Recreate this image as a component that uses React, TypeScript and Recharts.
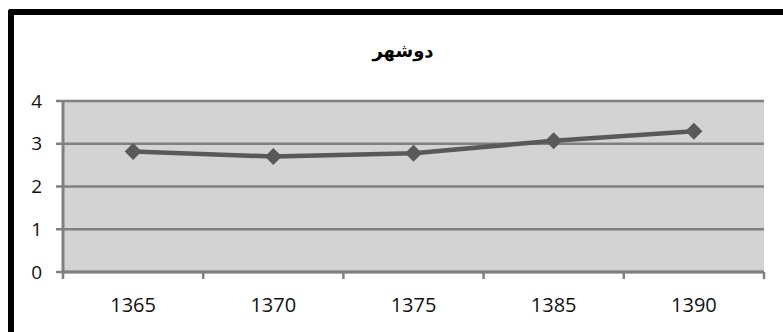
import React from 'react';
import { LineChart, Line, XAxis, YAxis, CartesianGrid } from 'recharts';

const years = ['1365', '1370', '1375', '1385', '1390'];
const values = [2.82, 2.7, 2.78, 3.07, 3.29];
const yTicks = [0, 1, 2, 3, 4];

const title = 'دوشهر';

const W = 783;
const H = 332;
const MARGIN = { top: 101, right: 19, bottom: 0, left: 0 };
const Y_WIDTH = 63;
const PLOT_W = W - MARGIN.left - MARGIN.right - Y_WIDTH;
const HALF_BAND = PLOT_W / years.length / 2;

const AXIS = '#808080';
const LINE = '#595959';

const chartData = years.map((year, i) => ({ year, value: values[i] }));

function Diamond(props: any) {
  const { cx, cy } = props;
  if (cx == null || cy == null) return null;
  const s = 8.5;
  return (
    <polygon
      points={`${cx},${cy - s} ${cx + s},${cy} ${cx},${cy + s} ${cx - s},${cy}`}
      fill={LINE}
    />
  );
}

function YearTick(props: any) {
  const { x, y, payload, index } = props;
  const axisY = y - 25;
  return (
    <g>
      <line x1={x - HALF_BAND} y1={axisY} x2={x - HALF_BAND} y2={axisY + 7} stroke={AXIS} strokeWidth={2.5} />
      {index === years.length - 1 && (
        <line x1={x + HALF_BAND} y1={axisY} x2={x + HALF_BAND} y2={axisY + 7} stroke={AXIS} strokeWidth={2.5} />
      )}
      <text x={x} y={y + 1} dy="0.71em" textAnchor="middle" fill="#111" fontSize={20} fontFamily="'Open Sans', sans-serif">
        {payload.value}
      </text>
    </g>
  );
}

export default function App() {
  return (
    <div style={{ position: 'absolute', left: 0, top: 0, width: W, height: H, overflow: 'hidden', background: '#fff' }}>
      <div
        style={{
          position: 'absolute',
          left: 8,
          top: 9,
          width: 820,
          height: 400,
          borderLeft: '6px solid #000',
          borderTop: '6px solid #000',
          borderTopLeftRadius: 3,
        }}
      />
      <div
        style={{
          position: 'absolute',
          left: 343,
          top: 40,
          width: 120,
          textAlign: 'center',
          fontFamily: "'DejaVu Sans', sans-serif",
          fontWeight: 'bold',
          fontSize: 18,
          color: '#000',
          direction: 'rtl',
        }}
      >
        {title}
      </div>
      <div style={{ position: 'absolute', left: 0, top: 0 }}>
        <LineChart width={W} height={H} data={chartData} margin={MARGIN}>
          <CartesianGrid vertical={false} stroke={AXIS} strokeWidth={2.5} fill="#d3d3d3" fillOpacity={1} />
          <XAxis
            dataKey="year"
            scale="band"
            height={60}
            axisLine={{ stroke: AXIS, strokeWidth: 3 }}
            tickLine={false}
            tickSize={7}
            tickMargin={18}
            tick={<YearTick />}
            interval={0}
          />
          <YAxis
            width={Y_WIDTH}
            domain={[0, 4]}
            ticks={yTicks}
            interval={0}
            axisLine={{ stroke: AXIS, strokeWidth: 3 }}
            tickLine={{ stroke: AXIS, strokeWidth: 2.5 }}
            tickSize={7}
            tickMargin={14}
            tick={{ fill: '#111', fontSize: 19, fontFamily: "'Open Sans', sans-serif" }}
          />
          <Line
            type="linear"
            dataKey="value"
            stroke={LINE}
            strokeWidth={4.5}
            dot={<Diamond />}
            activeDot={false}
            isAnimationActive={false}
          />
        </LineChart>
      </div>
    </div>
  );
}
